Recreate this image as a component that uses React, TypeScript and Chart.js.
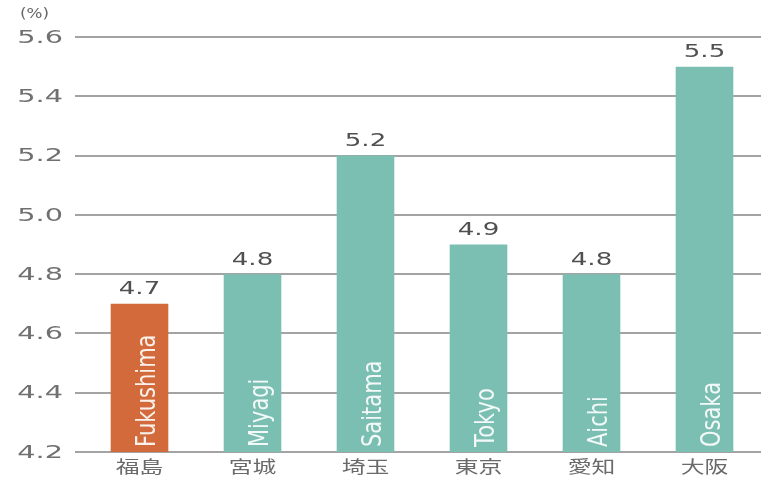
import React, { useEffect, useRef } from "react";
import { Chart, registerables } from "chart.js";

Chart.register(...registerables);

const categories = ["福島", "宮城", "埼玉", "東京", "愛知", "大阪"];
const romaji = ["Fukushima", "Miyagi", "Saitama", "Tokyo", "Aichi", "Osaka"];
const values = [4.7, 4.8, 5.2, 4.9, 4.8, 5.5];
const barColors = ["#D36A3B", "#7BBFB3", "#7BBFB3", "#7BBFB3", "#7BBFB3", "#7BBFB3"];
const yTicks = [4.2, 4.4, 4.6, 4.8, 5.0, 5.2, 5.4, 5.6];
const unitLabel = "(%)";

function stretchedText(ctx: CanvasRenderingContext2D, text: string, x: number, y: number, align: CanvasTextAlign, baseline: CanvasTextBaseline, font: string, color: string, sx: number) {
  ctx.save();
  ctx.translate(x, y);
  ctx.scale(sx, 1);
  ctx.font = font;
  ctx.fillStyle = color;
  ctx.textAlign = align;
  ctx.textBaseline = baseline;
  ctx.fillText(text, 0, 0);
  ctx.restore();
}

const labelsPlugin = {
  id: "customLabels",
  afterDraw(chart: any) {
    const ctx: CanvasRenderingContext2D = chart.ctx;
    const ys = chart.scales.y;
    const xs = chart.scales.x;
    const tickFont = '18px "DejaVu Sans", sans-serif';
    yTicks.forEach((v) => {
      const y = ys.getPixelForValue(v);
      stretchedText(ctx, v.toFixed(1), 63, y + 1, "right", "middle", tickFont, "#707070", 1.6);
    });
    stretchedText(ctx, unitLabel, 20, 14, "left", "middle", '14px "DejaVu Sans", sans-serif', "#666666", 1.2);
    categories.forEach((c, i) => {
      const x = xs.getPixelForValue(i);
      stretchedText(ctx, c, x, 467, "center", "middle", '17px "Noto Sans CJK JP", sans-serif', "#6a6a6a", 1.4);
    });
    const meta = chart.getDatasetMeta(0);
    const bottom = chart.chartArea.bottom;
    meta.data.forEach((bar: any, i: number) => {
      stretchedText(ctx, values[i].toFixed(1), bar.x, bar.y - 5, "center", "bottom", '18px "DejaVu Sans", sans-serif', "#505050", 1.45);
      ctx.save();
      ctx.translate(bar.x + 9, bottom - 5);
      ctx.scale(1.25, 1);
      ctx.rotate(-Math.PI / 2);
      ctx.font = '21px "DejaVu Sans", sans-serif';
      ctx.fillStyle = "rgba(255,255,255,0.9)";
      ctx.textAlign = "left";
      ctx.textBaseline = "middle";
      ctx.fillText(romaji[i], 0, 0);
      ctx.restore();
    });
  },
};

export default function App() {
  const ref = useRef<HTMLCanvasElement>(null);
  useEffect(() => {
    document.body.style.margin = "0";
    const chart = new Chart(ref.current!, {
      type: "bar",
      data: {
        labels: categories,
        datasets: [
          {
            data: values,
            backgroundColor: barColors,
            borderWidth: 0,
            barPercentage: 0.51,
            categoryPercentage: 1,
          },
        ],
      },
      options: {
        animation: false,
        responsive: false,
        maintainAspectRatio: false,
        layout: { padding: { top: 37, right: 0, left: 0, bottom: 0 } },
        plugins: { legend: { display: false }, tooltip: { enabled: false }, title: { display: false } },
        scales: {
          x: {
            grid: { display: false },
            border: { display: false },
            ticks: { display: false },
            afterFit: (s: any) => {
              s.height = 26;
            },
          },
          y: {
            min: 4.2,
            max: 5.6,
            ticks: { display: false, stepSize: 0.2 },
            grid: { color: "#a3a3a3", lineWidth: 2, drawTicks: true, tickLength: 8 },
            border: { display: false },
            afterFit: (s: any) => {
              s.width = 83;
            },
          },
        },
      },
      plugins: [labelsPlugin],
    });
    return () => chart.destroy();
  }, []);
  return (
    <div style={{ position: "absolute", left: 0, top: 0, width: 761, height: 478, background: "#fff" }}>
      <canvas ref={ref} width={761} height={478} />
    </div>
  );
}
